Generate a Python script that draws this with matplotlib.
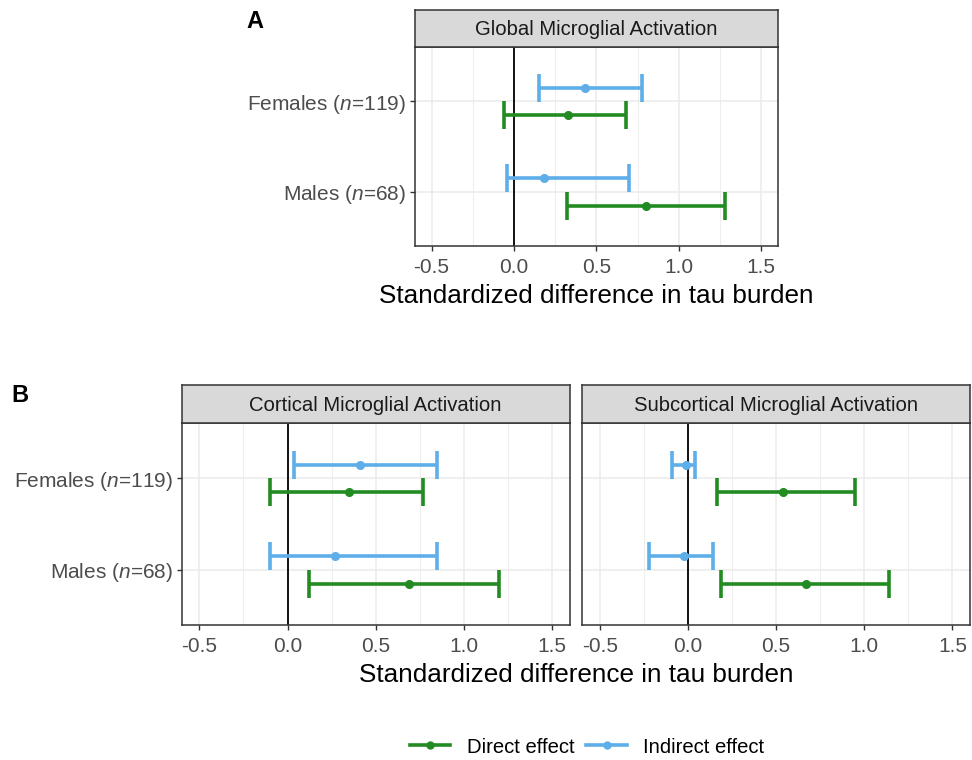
import numpy as np
import matplotlib.pyplot as plt
from matplotlib.lines import Line2D

plt.rcParams['font.family'] = ['Liberation Sans', 'DejaVu Sans']
plt.rcParams['mathtext.fontset'] = 'custom'
plt.rcParams['mathtext.rm'] = 'Liberation Sans'
plt.rcParams['mathtext.it'] = 'Liberation Sans:italic'

GREEN = '#228B22'
BLUE = '#5EAEEA'

# rows: Males (bottom), Females (top)
group_labels = [r'Males ($\mathit{n}$=68)', r'Females ($\mathit{n}$=119)']
x_ticks = [-0.5, 0.0, 0.5, 1.0, 1.5]

# Global microglial activation
glob_dir = [0.80, 0.33]
glob_dir_lo = [0.32, -0.06]
glob_dir_hi = [1.28, 0.68]
glob_ind = [0.18, 0.43]
glob_ind_lo = [-0.04, 0.155]
glob_ind_hi = [0.70, 0.78]

# Cortical microglial activation
cort_dir = [0.69, 0.35]
cort_dir_lo = [0.12, -0.10]
cort_dir_hi = [1.20, 0.77]
cort_ind = [0.27, 0.41]
cort_ind_lo = [-0.10, 0.035]
cort_ind_hi = [0.85, 0.85]

# Subcortical microglial activation
sub_dir = [0.67, 0.54]
sub_dir_lo = [0.19, 0.165]
sub_dir_hi = [1.14, 0.95]
sub_ind = [-0.02, -0.01]
sub_ind_lo = [-0.22, -0.09]
sub_ind_hi = [0.14, 0.04]


def errbars(ax, est, lo, hi, y, color):
    est = np.array(est)
    err = [est - np.array(lo), np.array(hi) - est]
    ax.errorbar(est, y, xerr=err, fmt='o', color=color, ms=5.5,
                elinewidth=2.6, capsize=10, capthick=2.6, zorder=3)


def panel(fig, rect, strip_h, title, d, dlo, dhi, i, ilo, ihi, show_y):
    ax = fig.add_axes(rect)
    y = np.arange(1, 3)
    errbars(ax, d, dlo, dhi, y - 0.15, GREEN)
    errbars(ax, i, ilo, ihi, y + 0.15, BLUE)
    ax.axvline(0, color='black', lw=1.3, zorder=2)
    ax.set_xlim(-0.6, 1.6)
    ax.set_ylim(0.4, 2.6)
    ax.set_xticks(x_ticks)
    ax.set_xticklabels(['%.1f' % t for t in x_ticks])
    ax.set_xticks([-0.25, 0.25, 0.75, 1.25], minor=True)
    ax.set_yticks(y)
    ax.set_yticklabels(group_labels if show_y else [])
    ax.grid(True, which='major', color='#EBEBEB', lw=1.1, zorder=0)
    ax.grid(True, which='minor', axis='x', color='#EEEEEE', lw=0.8, zorder=0)
    ax.set_axisbelow(True)
    ax.tick_params(axis='both', which='major', length=3.5, width=1,
                   color='#333333', labelcolor='#4D4D4D', labelsize=15, pad=3)
    ax.tick_params(axis='x', pad=5)
    ax.tick_params(axis='y', length=0 if not show_y else 3.5)
    ax.tick_params(axis='x', which='minor', length=0)
    for s in ax.spines.values():
        s.set_color('#333333')
        s.set_linewidth(1.1)
    # strip on top
    sx = fig.add_axes([rect[0], rect[1] + rect[3], rect[2], strip_h])
    sx.set_facecolor('#D9D9D9')
    sx.set_xticks([])
    sx.set_yticks([])
    for s in sx.spines.values():
        s.set_color('#333333')
        s.set_linewidth(1.1)
    sx.text(0.5, 0.47, title, ha='center', va='center', fontsize=14.6,
            color='#1A1A1A', transform=sx.transAxes)
    return ax


fig = plt.figure(figsize=(9.72, 7.6), dpi=100)

axA = panel(fig, [0.427, 0.676, 0.373, 0.262], 0.049,
            'Global Microglial Activation',
            glob_dir, glob_dir_lo, glob_dir_hi,
            glob_ind, glob_ind_lo, glob_ind_hi, True)
axA.set_xlabel('Standardized difference in tau burden', fontsize=18.8,
               color='black', labelpad=5)

panel(fig, [0.187, 0.178, 0.399, 0.265], 0.051,
      'Cortical Microglial Activation',
      cort_dir, cort_dir_lo, cort_dir_hi,
      cort_ind, cort_ind_lo, cort_ind_hi, True)
panel(fig, [0.599, 0.178, 0.399, 0.265], 0.051,
      'Subcortical Microglial Activation',
      sub_dir, sub_dir_lo, sub_dir_hi,
      sub_ind, sub_ind_lo, sub_ind_hi, False)

fig.text(0.593, 0.112, 'Standardized difference in tau burden', fontsize=18.8,
         ha='center', va='center')

fig.text(0.254, 0.972, 'A', fontsize=17, fontweight='bold', ha='left', va='center')
fig.text(0.012, 0.479, 'B', fontsize=17, fontweight='bold', ha='left', va='center')

handles = [Line2D([], [], color=GREEN, lw=2.6, marker='o', ms=5),
           Line2D([], [], color=BLUE, lw=2.6, marker='o', ms=5)]
fig.legend(handles, ['Direct effect', 'Indirect effect'], loc='center',
           bbox_to_anchor=(0.604, 0.017), ncol=2, frameon=False, fontsize=14.6,
           handlelength=2.0, columnspacing=0.6, handletextpad=0.8)

fig.savefig('out.png', dpi=100)
